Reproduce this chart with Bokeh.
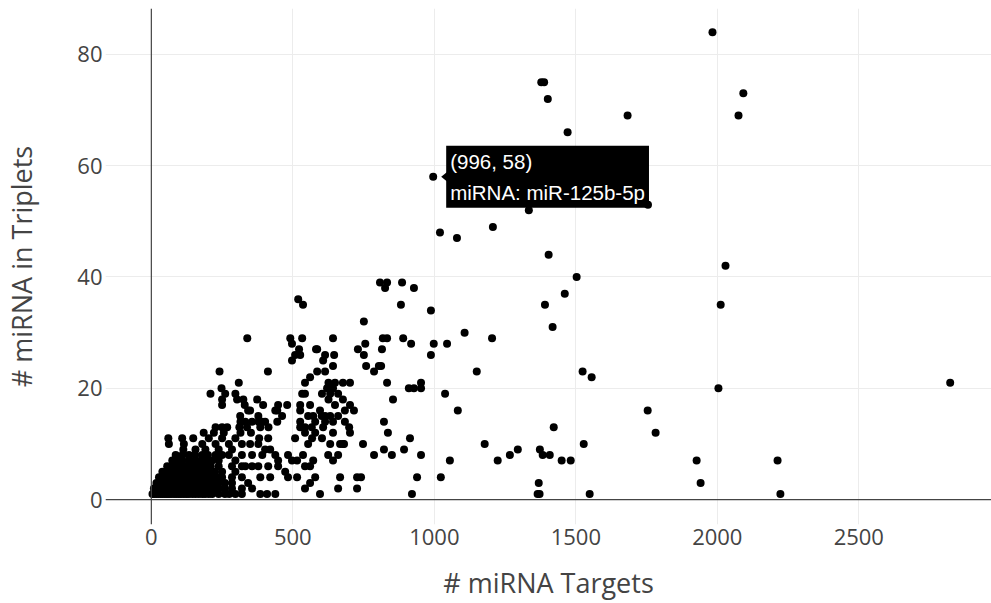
from bokeh.plotting import figure
from bokeh.models import Range1d, Span, Label, PolyAnnotation, SingleIntervalTicker
from bokeh.embed import file_html
from bokeh.resources import INLINE

# ---------------- data ----------------
outlier_targets = [1983, 2092, 2075, 2029, 1378, 1388, 1401, 1683, 1471, 996,
                   1334, 1755, 1020, 1080, 1207, 1404, 1503, 1461, 808, 833,
                   826, 886, 928, 2012, 2004, 2823, 1927, 1941, 2213, 2223]
outlier_triplets = [84, 73, 69, 42, 75, 75, 72, 69, 66, 58,
                    52, 53, 48, 47, 49, 44, 40, 37, 39, 39,
                    38, 39, 38, 35, 20, 21, 7, 3, 7, 1]

mid_targets = [882, 988, 1391, 1418, 751, 1107, 1204, 890, 918, 998,
               1045, 988, 756, 818, 833, 815, 730, 751, 759, 787,
               804, 812, 1150, 1524, 1556, 702, 833, 910, 928, 953,
               953, 1038, 854, 1083, 1754, 1782, 822, 836, 914, 748,
               681, 822, 893, 850, 787, 953, 1178, 1295, 1267, 1224,
               1055, 1373, 1383, 1408, 1422, 1450, 1482, 1528, 939, 1023,
               727, 741, 727, 921, 1369, 1365, 1372, 1549, 702, 716,
               699, 702]
mid_triplets = [35, 34, 35, 31, 32, 30, 29, 29, 28, 28,
                28, 26, 28, 29, 29, 27, 27, 26, 24, 23,
                24, 24, 23, 23, 22, 21, 21, 20, 20, 21,
                20, 19, 18, 16, 16, 12, 14, 12, 11, 10,
                10, 9, 9, 8, 8, 8, 10, 9, 8, 7,
                7, 9, 8, 8, 13, 7, 7, 10, 4, 4,
                4, 4, 2, 1, 3, 1, 1, 1, 17, 16,
                13, 12]

upper_targets = [586, 614, 646, 607, 642, 614, 586, 561, 543, 649,
                 621, 642, 677, 660, 632, 603, 533, 543, 374, 395,
                 448, 480, 445, 462, 445, 349, 378, 402, 356, 392,
                 526, 561, 572, 554, 596, 614, 632, 649, 677, 684,
                 660, 614, 642, 684, 526, 543, 519, 536, 339, 491,
                 497, 533, 642, 522, 582, 508, 526, 497, 412, 626,
                 626, 438, 526, 602, 579, 385, 414, 526, 567]
upper_triplets = [27, 26, 26, 25, 24, 23, 23, 22, 21, 21,
                  20, 20, 21, 19, 19, 19, 19, 19, 18, 17,
                  17, 17, 16, 15, 14, 16, 15, 14, 14, 14,
                  17, 17, 15, 15, 16, 15, 15, 17, 18, 16,
                  15, 14, 14, 14, 14, 13, 36, 35, 29, 29,
                  28, 29, 29, 27, 27, 26, 26, 25, 23, 21,
                  18, 16, 16, 15, 14, 13, 13, 13, 13]

left_targets = [241, 309, 248, 209, 261, 297, 250, 250, 330, 315,
                379, 303, 325, 314, 342, 332, 227, 250, 268, 311, 338]
left_triplets = [23, 21, 20, 19, 19, 19, 18, 17, 17, 14,
                 14, 18, 18, 15, 16, 14, 13, 13, 13, 13, 13]

lower_targets = [352, 381, 413, 349, 378, 402, 420, 356, 392, 438,
                 448, 332, 356, 378, 413, 385, 420, 448, 473, 483,
                 515, 497, 483, 515, 536, 554, 568, 543, 508, 579,
                 603, 607, 642, 632, 667, 677, 625, 642, 660, 667,
                 572, 561, 543, 579, 561, 543, 660, 596, 385, 409,
                 438, 356, 342]
lower_triplets = [12, 11, 11, 10, 10, 9, 9, 8, 8, 8,
                  7, 6, 6, 6, 6, 4, 4, 6, 5, 4,
                  4, 7, 8, 7, 8, 10, 11, 12, 11, 12,
                  11, 13, 12, 10, 10, 10, 8, 7, 8, 4,
                  7, 6, 6, 4, 3, 2, 2, 1, 1, 1,
                  1, 2, 3]

core_row_triplets = [12, 11, 10, 9, 8, 7, 6, 5, 4, 3, 2, 1]
core_row_targets = [
    [185, 221, 256, 315],
    [60, 109, 148, 203, 250, 297],
    [62, 115, 180, 227, 274, 320],
    [113, 156, 191, 238, 285],
    [86, 133, 180, 227, 274, 320, 110, 155, 200, 250],
    [74, 109, 156, 197, 238, 297, 92, 132, 175, 215],
    [56, 86, 121, 156, 191, 238, 285, 320, 70, 104, 138, 172, 210],
    [39, 62, 86, 109, 133, 168, 203, 250, 297, 50, 74, 97, 121, 150, 185, 225],
    [27, 50, 74, 97, 121, 144, 180, 215, 250, 285, 320, 38, 62, 86, 108, 132, 162, 198, 232],
    [18, 36, 56, 76, 97, 121, 144, 168, 203, 238, 285, 27, 46, 66, 86, 108, 132, 156, 185, 220, 260],
    [9, 27, 45, 62, 80, 97, 121, 144, 168, 203, 238, 285, 320, 18, 36, 53, 70, 88, 108, 132, 156, 185, 220, 260],
    [4, 18, 33, 48, 62, 80, 97, 115, 133, 156, 180, 203, 238, 297, 320, 10, 25, 40, 55, 70, 88, 105, 124, 145, 168, 190, 215, 260, 275],
]

hover_mirna = "miR-125b-5p"
hover_target = 996
hover_triplet = 58

x_ticks_step = 500
y_ticks_step = 20

# ---------------- assemble ----------------
targets = outlier_targets + mid_targets + upper_targets + left_targets + lower_targets
triplets = outlier_triplets + mid_triplets + upper_triplets + left_triplets + lower_triplets
for t, row in zip(core_row_triplets, core_row_targets):
    targets = targets + row
    triplets = triplets + [t] * len(row)

W, H = 991, 603
BL, BR, BT, BB = 103, 0, 8, 78
x0, x1 = -162, 2969
y0, y1 = -4.48, 88.25

p = figure(width=W, height=H, output_backend="svg", toolbar_location=None,
           x_range=Range1d(x0, x1), y_range=Range1d(y0, y1),
           min_border_left=BL, min_border_right=BR,
           min_border_top=BT, min_border_bottom=BB)
p.outline_line_color = None
p.background_fill_color = "white"
p.border_fill_color = "white"

p.xaxis.ticker = SingleIntervalTicker(interval=x_ticks_step)
p.yaxis.ticker = SingleIntervalTicker(interval=y_ticks_step)
p.xgrid.ticker = p.xaxis.ticker
p.ygrid.ticker = p.yaxis.ticker
for g in (p.xgrid, p.ygrid):
    g.grid_line_color = "#ececec"
    g.grid_line_width = 1

FONT = "Open Sans"
for ax in (p.xaxis, p.yaxis):
    ax.axis_line_color = None
    ax.major_tick_line_color = None
    ax.minor_tick_line_color = None
    ax.major_tick_out = 0
    ax.major_tick_in = 0
    ax.minor_tick_out = 0
    ax.major_label_text_font = FONT
    ax.major_label_text_font_size = "22px"
    ax.major_label_text_color = "#444444"
    ax.axis_label_text_font = FONT
    ax.axis_label_text_font_size = "27px"
    ax.axis_label_text_font_style = "normal"
    ax.axis_label_text_color = "#444444"

p.xaxis.axis_label = "# miRNA Targets"
p.yaxis.axis_label = "# miRNA in Triplets"
p.xaxis.major_label_standoff = 4
p.yaxis.major_label_standoff = 3
p.xaxis.axis_label_standoff = 16
p.yaxis.axis_label_standoff = 34

p.add_layout(Span(location=0, dimension="height", line_color="#444444", line_width=1.2))
p.add_layout(Span(location=0, dimension="width", line_color="#444444", line_width=1.2))

p.scatter(targets, triplets, size=8, color="black", line_color=None)

# hover label
frame_w = W - BL - BR
frame_h = H - BT - BB
dx = (x1 - x0) / frame_w   # data units per pixel
dy = (y1 - y0) / frame_h
tri = PolyAnnotation(xs=[hover_target + 8 * dx, hover_target + 15.5 * dx, hover_target + 15.5 * dx],
                     ys=[hover_triplet, hover_triplet + 6 * dy, hover_triplet - 6 * dy],
                     fill_color="black", fill_alpha=1, line_color=None)
p.add_layout(tri)
pad = 4
tip = Label(x=hover_target, y=hover_triplet, x_offset=13, y_offset=0,
            text=f"({hover_target}, {hover_triplet})\nmiRNA: {hover_mirna}",
            text_font="Liberation Sans", text_font_size="20.5px", text_color="white",
            text_align="left", text_baseline="middle", text_line_height=1.35,
            background_fill_color="black", background_fill_alpha=1, padding=pad)
p.add_layout(tip)

open("out.html", "w").write(file_html(p, INLINE))
